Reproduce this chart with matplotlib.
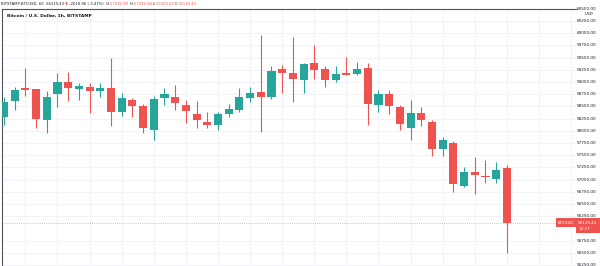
import matplotlib
matplotlib.use('Agg')
import matplotlib.pyplot as plt
from matplotlib.patches import Rectangle

# hourly candles, BITSTAMP:BTCUSD
opens = [58289, 58611, 58877, 58851, 58221, 58760, 59000, 58863, 58891, 58822,
         58877, 58392, 58631, 58508, 58023, 58666, 58699, 58529, 58344, 58187,
         58119, 58344, 58426, 58678, 58795, 58699, 59266, 59191, 59041, 59396,
         59266, 59041, 59178, 59164, 59293, 58529, 58764, 58494, 58064, 58371,
         58180, 57637, 57760, 56875, 57150, 57068, 57012, 57230.99]
highs = [58699, 58891, 59281, 58860, 58822, 59191, 59205, 58986, 58973, 58986,
         59492, 58769, 58666, 58543, 58713, 58871, 58939, 58631, 58617, 58392,
         58392, 58549, 58871, 58904, 59963, 59328, 59348, 59916, 59383, 59758,
         59328, 59328, 59506, 59416, 59383, 58836, 58836, 58529, 58631, 58494,
         58221, 57873, 57791, 57264, 57469, 57402, 57355, 57295.68]
lows = [58119, 58426, 58713, 58051, 57949, 58494, 58617, 58631, 58359, 58687,
        58098, 58303, 58289, 57949, 57812, 58529, 58426, 58166, 58057, 58051,
        58016, 58289, 58392, 58596, 57982, 58646, 58769, 58596, 58769, 59055,
        58904, 59006, 59140, 59143, 58119, 58392, 58344, 58016, 57812, 58098,
        57484, 57478, 56752, 56855, 56699, 56924, 56924, 55500.00]
closes = [58596, 58836, 58836, 58248, 58699, 58994, 58883, 58918, 58816, 58877,
          58392, 58666, 58514, 58064, 58652, 58754, 58576, 58406, 58221, 58119,
          58344, 58447, 58699, 58781, 58699, 59232, 59178, 59055, 59369, 59246,
          59041, 59164, 59150, 59266, 58549, 58754, 58508, 58139, 58371, 58221,
          57637, 57812, 56904, 57162, 57088, 57047, 57197, 56119.43]

price_ticks = [60500, 60250, 60000, 59750, 59500, 59250, 59000, 58750, 58500, 58250,
               58000, 57750, 57500, 57250, 57000, 56750, 56500, 56250, 55750, 55500, 55250]

UP = '#26a69a'
DOWN = '#ef5350'
GRID = '#f0f3fa'
TXT = '#131722'

W, H = 600, 266
fig = plt.figure(figsize=(W / 100, H / 100), dpi=100)
fig.patch.set_facecolor('white')

# pane: x pixel = 4 + 10.7*i, price -> y via 12.2 px per 250
px_per_bar = 10.7
left_px, right_px, top_px = 2, 576, 9
ax = fig.add_axes([left_px / W, 0, (right_px - left_px) / W, 1 - top_px / H])
ax.set_xlim((left_px - 4) / px_per_bar, (right_px - 4) / px_per_bar)
ppp = 250 / 12.2
ymax = 60250 + (21 - top_px) * ppp
ymin = 60250 - (H - 21) * ppp
ax.set_ylim(ymin, ymax)

# grid
for i in range(2, 54, 3):
    ax.axvline(i, color=GRID, linewidth=0.8, zorder=0)
for p in price_ticks:
    ax.axhline(p, color=GRID, linewidth=0.8, zorder=0)

min_body = ppp * 1.0
for i in range(len(opens)):
    o, h, l, c = opens[i], highs[i], lows[i], closes[i]
    col = UP if c >= o else DOWN
    ax.vlines(i, l, h, color=col, linewidth=0.8, zorder=2)
    lo = min(o, c)
    ht = max(abs(c - o), min_body)
    ax.add_patch(Rectangle((i - 0.38, lo), 0.76, ht, facecolor=col,
                           edgecolor='none', zorder=3))

# last price line
ax.axhline(closes[-1], color=DOWN, linewidth=0.6, linestyle=(0, (1, 1.5)),
           alpha=0.6, zorder=1)

ax.set_xticks([])
ax.set_yticks([])
for s in ['right', 'bottom']:
    ax.spines[s].set_visible(False)
ax.spines['top'].set_color('#50535e')
ax.spines['top'].set_linewidth(0.8)
ax.spines['left'].set_color('#50535e')
ax.spines['left'].set_linewidth(0.8)


def ypix(price):
    return 21 + (60250 - price) / ppp


def fy(ypx):
    return 1 - ypx / H


# price axis labels
for p in price_ticks:
    fig.text(577 / W, fy(ypix(p)), f'{p:.2f}', fontsize=3.0, color=TXT,
             va='center', ha='left')
fig.text(589 / W, fy(14), 'USD', fontsize=3.0, color=TXT, va='center', ha='center')

# last price tags
ylast = ypix(closes[-1])
fig.patches.append(Rectangle((556 / W, fy(ylast + 4.5)), 20 / W, 9 / H,
                             transform=fig.transFigure, facecolor=DOWN,
                             edgecolor='none', zorder=5))
fig.text(566 / W, fy(ylast), 'BTCUSD', fontsize=2.8, color='white',
         ha='center', va='center', zorder=6)
fig.patches.append(Rectangle((576 / W, fy(ylast + 10)), 24 / W, 15 / H,
                             transform=fig.transFigure, facecolor=DOWN,
                             edgecolor='none', zorder=5))
fig.text(577.5 / W, fy(ylast), f'{closes[-1]:.2f}', fontsize=3.0, color='white',
         ha='left', va='center', zorder=6)
fig.text(579 / W, fy(ylast + 6.5), '12:27', fontsize=3.0, color='white',
         ha='left', va='center', zorder=6)

# header line, laid out piece by piece
hy = fy(4)
pieces = [('BITSTAMP:BTCUSD, 60  56119.43 ', TXT), ('\u25bc', DOWN),
          (' -2018.96 (-3.47%)  ', TXT),
          ('O:', TXT), ('57230.99 ', DOWN),
          ('H:', TXT), ('57295.68 ', DOWN),
          ('L:', TXT), ('55500.00 ', DOWN),
          ('C:', TXT), ('56119.43', DOWN)]
renderer = fig.canvas.get_renderer()
x = 1.0
for t, c in pieces:
    txt = fig.text(x / W, hy, t, fontsize=2.7, color=c, va='center', ha='left')
    x += txt.get_window_extent(renderer).width

fig.text(7 / W, fy(16), 'Bitcoin / U.S. Dollar, 1h, BITSTAMP', fontsize=3.2,
         color=TXT, fontweight='bold', va='center', ha='left')

fig.savefig('out.png', dpi=100)
